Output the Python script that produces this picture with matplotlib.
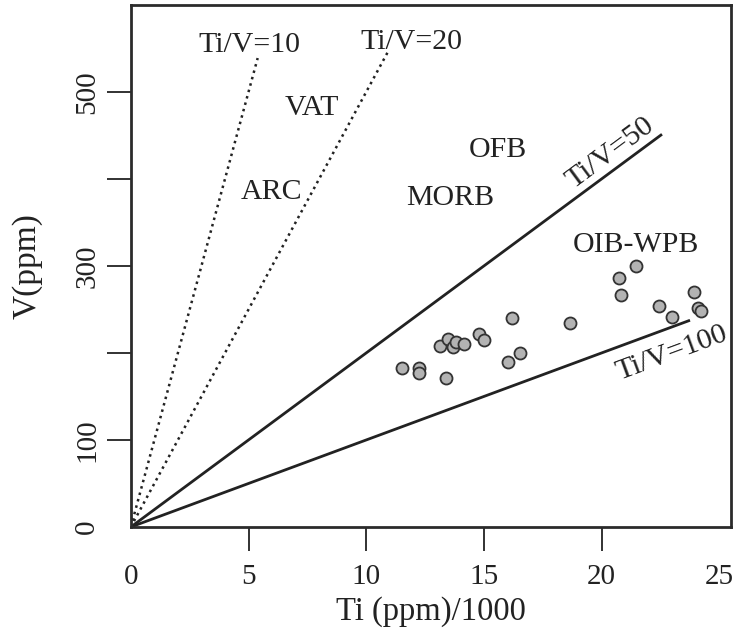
import numpy as np
import matplotlib
matplotlib.use("Agg")
import matplotlib.pyplot as plt

# Ti (ppm)/1000 and V (ppm) of the samples
ti = [11.53, 12.24, 12.24, 13.39, 13.13, 13.48, 13.70, 13.81, 14.16, 14.79,
      15.00, 16.20, 16.03, 16.53, 18.66, 20.73, 20.81, 21.46, 22.44, 22.99,
      23.93, 24.11, 24.22]
v = [182.4, 182.4, 176.7, 170.9, 208.4, 215.7, 207.2, 213.0, 210.0, 221.8,
     214.9, 239.9, 190.0, 199.7, 234.1, 285.9, 266.7, 300.0, 254.0, 241.7,
     270.5, 251.4, 248.3]

# Ti/V reference lines: ratio, end of line (Ti/1000), style
ratios = [10, 20, 50, 100]
ratio_end = [5.39, 10.96, 22.57, 23.76]
ratio_style = [':', ':', '-', '-']

# field names and where they sit
fields = ['VAT', 'ARC', 'OFB', 'MORB', 'OIB-WPB']
field_x = [7.69, 5.99, 15.60, 13.56, 21.46]
field_y = [481.6, 385.0, 433.0, 378.0, 324.0]

xticks = [0, 5, 10, 15, 20, 25]
yticks = [0, 100, 200, 300, 400, 500]
ytick_labels = ['0', '100', '', '300', '', '500']

plt.rcParams['font.family'] = ['Liberation Serif', 'DejaVu Serif']
ink = '#222222'
fs = 21.5

fig = plt.figure(figsize=(7.35, 6.4), dpi=100)
ax = fig.add_axes([0.178, 0.1766, 0.8165, 0.8156])
ax.set_xlim(0, 25.5)
ax.set_ylim(0, 600)

for s in ax.spines.values():
    s.set_linewidth(2.0)
    s.set_color('#2b2b2b')

# ratio lines
for r, xe, ls in zip(ratios, ratio_end, ratio_style):
    xs = np.array([0, xe])
    ax.plot(xs, xs * 1000 / r, ls, color=ink, lw=2.0 if ls == '-' else 1.8,
            solid_capstyle='butt')

# samples
ax.scatter(ti, v, s=75, facecolor='#b3b3b3', edgecolor='#333333',
           linewidths=1.3, zorder=3)

# labels of the dotted lines, at their top ends
ax.text(5.06, 554, 'Ti/V=10', fontsize=fs, ha='center', va='center', color=ink)
ax.text(11.94, 557, 'Ti/V=20', fontsize=fs, ha='center', va='center', color=ink)

# labels along the solid lines
def screen_angle(r):
    p0 = ax.transData.transform((0, 0))
    p1 = ax.transData.transform((10, 10000 / r))
    return np.degrees(np.arctan2(p1[1] - p0[1], p1[0] - p0[0]))

ax.text(20.7, 20.7 * 1000 / 50 + 4, 'Ti/V=50', fontsize=fs, color=ink,
        rotation=screen_angle(50), rotation_mode='anchor',
        ha='center', va='bottom')
ax.text(22.8, 22.8 * 1000 / 100 - 14, 'Ti/V=100', fontsize=fs, color=ink,
        rotation=screen_angle(100), rotation_mode='anchor',
        ha='center', va='top')

for name, fx, fy in zip(fields, field_x, field_y):
    ax.text(fx, fy, name, fontsize=fs, ha='center', va='center', color=ink)

ax.set_xticks(xticks)
ax.set_xticklabels([str(t) for t in xticks])
ax.set_yticks(yticks)
ax.set_yticklabels(ytick_labels, rotation=90, va='center')
ax.tick_params(direction='out', length=17, width=1.3, colors=ink,
               labelsize=21)
ax.tick_params(axis='x', pad=10)
ax.tick_params(axis='y', pad=5)
# no tick marks in the corners
for t in [ax.xaxis.get_major_ticks()[0], ax.xaxis.get_major_ticks()[-1],
          ax.yaxis.get_major_ticks()[0]]:
    t.tick1line.set_visible(False)

ax.set_xlabel('Ti (ppm)/1000', fontsize=23.5, color=ink, labelpad=4)
ax.set_ylabel('V(ppm)', fontsize=24, color=ink, labelpad=23)

fig.savefig('out.png', dpi=100)
